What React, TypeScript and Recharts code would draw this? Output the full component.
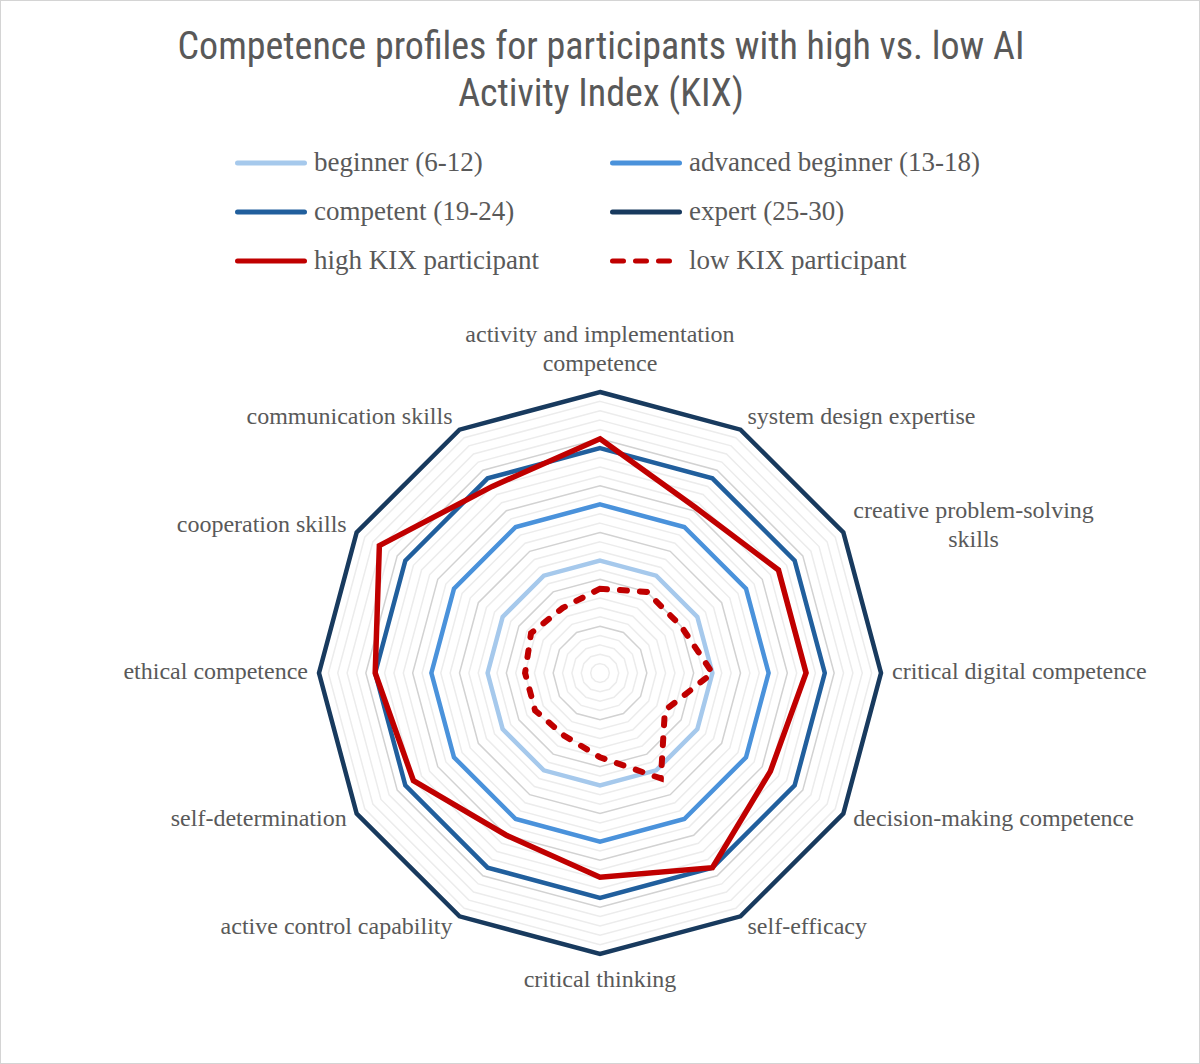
import {
  RadarChart,
  Radar,
  PolarGrid,
  PolarAngleAxis,
  PolarRadiusAxis,
  Legend,
} from 'recharts';

// Axes of the radar, clockwise from the top
const skills = [
  'activity and implementation competence',
  'system design expertise',
  'creative problem-solving skills',
  'critical digital competence',
  'decision-making competence',
  'self-efficacy',
  'critical thinking',
  'active control capability',
  'self-determination',
  'ethical competence',
  'cooperation skills',
  'communication skills',
];

// Reference levels (upper bound of each band)
const beginner = [12, 12, 12, 12, 12, 12, 12, 12, 12, 12, 12, 12];
const advancedBeginner = [18, 18, 18, 18, 18, 18, 18, 18, 18, 18, 18, 18];
const competent = [24, 24, 24, 24, 24, 24, 24, 24, 24, 24, 24, 24];
const expert = [30, 30, 30, 30, 30, 30, 30, 30, 30, 30, 30, 30];

// Participants
const highKix = [25, 20.4, 22, 22, 21, 24, 21.8, 20, 23, 24, 27.2, 23];
const lowKix = [9, 10, 10, 12, 8, 13, 9, 7.7, 8, 8, 8.5, 8];

const SCALE_MAX = 30;
const minorTicks = [
  1, 2, 3, 4, 6, 7, 8, 9, 11, 12, 13, 14, 16, 17, 18, 19, 21, 22, 23, 24, 26,
  27, 28, 29,
];
const majorTicks = [5, 10, 15, 20, 25, 30];

// labels that break over two lines
const wrapped: Record<string, string[]> = {
  'activity and implementation competence': ['activity and implementation', 'competence'],
  'creative problem-solving skills': ['creative problem-solving', 'skills'],
};

const series = [
  { key: 'beginner', name: 'beginner (6-12)', color: '#a6c9ec', width: 4.5, dash: undefined },
  { key: 'advancedBeginner', name: 'advanced beginner (13-18)', color: '#4a92db', width: 4.5, dash: undefined },
  { key: 'competent', name: 'competent (19-24)', color: '#215f9d', width: 4.5, dash: undefined },
  { key: 'expert', name: 'expert (25-30)', color: '#183a5e', width: 4.5, dash: undefined },
  { key: 'highKix', name: 'high KIX participant', color: '#c00000', width: 5.5, dash: undefined },
  { key: 'lowKix', name: 'low KIX participant', color: '#c00000', width: 6, dash: '7 13' },
];

const data = skills.map((skill, i) => ({
  skill,
  beginner: beginner[i],
  advancedBeginner: advancedBeginner[i],
  competent: competent[i],
  expert: expert[i],
  highKix: highKix[i],
  lowKix: lowKix[i],
}));

const OUTER = 281;
const TEXT = '#595959';
const SERIF = "'Liberation Serif', 'Times New Roman', serif";
const LABEL_SIZE = 24;

const measureCtx =
  typeof document !== 'undefined' ? document.createElement('canvas').getContext('2d') : null;

const textWidth = (s: string) => {
  if (!measureCtx) return s.length * LABEL_SIZE * 0.45;
  measureCtx.font = `${LABEL_SIZE}px ${SERIF}`;
  return measureCtx.measureText(s).width;
};

const SkillTick = (props: any) => {
  const { x, y, payload } = props;
  const lines = wrapped[payload.value] ?? [payload.value];
  const rad = (payload.coordinate * Math.PI) / 180;
  const s = Math.sin(rad);
  const c = Math.cos(rad);
  const lh = 29;
  const anchor = c > 0.01 ? 'start' : c < -0.01 ? 'end' : 'middle';
  const bx = x + (anchor === 'start' ? 3 : anchor === 'end' ? -3 : 0);

  const centers = lines.map((_: string, i: number) => {
    if (s > 0.99) return y - 21 - (lines.length - 1 - i) * lh;
    if (s < -0.99) return y + 17 + i * lh;
    const mid = y - 2 - 5 * s;
    return mid + (i - (lines.length - 1) / 2) * lh;
  });

  let lineAnchor = anchor;
  let lx = bx;
  if (lines.length > 1 && anchor !== 'middle') {
    const maxW = Math.max(...lines.map(textWidth));
    lineAnchor = 'middle';
    lx = anchor === 'start' ? bx + maxW / 2 : bx - maxW / 2;
  }

  return (
    <g>
      {lines.map((line: string, i: number) => (
        <text
          key={line}
          x={lx}
          y={centers[i]}
          textAnchor={lineAnchor}
          dominantBaseline="central"
          fill={TEXT}
          fontFamily={SERIF}
          fontSize={LABEL_SIZE}
        >
          {line}
        </text>
      ))}
    </g>
  );
};

// keep the series order (Recharts sorts the legend payload by name)
const LegendGrid = ({ payload }: any) => {
  const items = series.map((cfg) => {
    const entry = (payload || []).find((p: any) => p.dataKey === cfg.key);
    return { label: cfg.name, color: entry?.color ?? cfg.color, dash: cfg.dash };
  });
  return (
    <div style={{ display: 'grid', gridTemplateColumns: '375px 375px', gridAutoRows: '49px' }}>
      {items.map((it) => (
        <div key={it.label} style={{ display: 'flex', alignItems: 'center' }}>
          <svg width={72} height={10} style={{ display: 'block' }}>
            <line
              x1={2.5}
              y1={5}
              x2={69.5}
              y2={5}
              stroke={it.color}
              strokeWidth={5}
              strokeLinecap="round"
              strokeDasharray={it.dash ? '11 12' : undefined}
            />
          </svg>
          <span
            style={{
              marginLeft: 7,
              fontFamily: SERIF,
              fontSize: 27,
              color: TEXT,
              whiteSpace: 'nowrap',
              lineHeight: '49px',
            }}
          >
            {it.label}
          </span>
        </div>
      ))}
    </div>
  );
};

export default function App() {
  return (
    <div
      style={{
        position: 'absolute',
        left: 0,
        top: 0,
        width: 1200,
        height: 1064,
        boxSizing: 'border-box',
        border: '1px solid #d4d4d4',
        background: '#fff',
        overflow: 'hidden',
      }}
    >
      <div
        style={{
          position: 'absolute',
          top: 22,
          left: 0,
          width: 1200,
          textAlign: 'center',
          fontFamily: "'Liberation Sans Narrow', 'Roboto Condensed', 'Roboto', sans-serif",
          fontSize: 38,
          lineHeight: '47px',
          color: TEXT,
        }}
      >
        Competence profiles for participants with high vs. low AI
        <br />
        Activity Index (KIX)
      </div>
      <div style={{ position: 'absolute', left: -1, top: -1 }}>
        <RadarChart
          width={1200}
          height={1064}
          data={data}
          cx={600}
          cy={673}
          outerRadius={OUTER}
          margin={{ top: 0, right: 0, bottom: 0, left: 0 }}
        >
          <PolarRadiusAxis
            type="number"
            domain={[0, SCALE_MAX]}
            tick={false}
            axisLine={false}
          />
          <PolarGrid
            gridType="polygon"
            radialLines={false}
            polarRadius={minorTicks.map((v) => (v / SCALE_MAX) * OUTER)}
            stroke="#ececec"
            strokeWidth={1.5}
          />
          <PolarGrid
            gridType="polygon"
            radialLines={false}
            polarRadius={majorTicks.map((v) => (v / SCALE_MAX) * OUTER)}
            stroke="#d2d2d2"
            strokeWidth={1.5}
          />
          <PolarAngleAxis dataKey="skill" tick={<SkillTick />} tickLine={false} axisLine={false} />
          {series.map((s) => (
            <Radar
              key={s.key}
              dataKey={s.key}
              name={s.name}
              stroke={s.color}
              strokeWidth={s.width}
              strokeDasharray={s.dash}
              strokeLinecap={s.dash ? 'round' : undefined}
              fill="none"
              fillOpacity={0}
              dot={false}
              isAnimationActive={false}
            />
          ))}
          <Legend
            content={<LegendGrid />}
            layout="horizontal"
            verticalAlign="middle"
            align="center"
            wrapperStyle={{ top: 138, left: 235, width: 760, height: 147 }}
          />
        </RadarChart>
      </div>
    </div>
  );
}
